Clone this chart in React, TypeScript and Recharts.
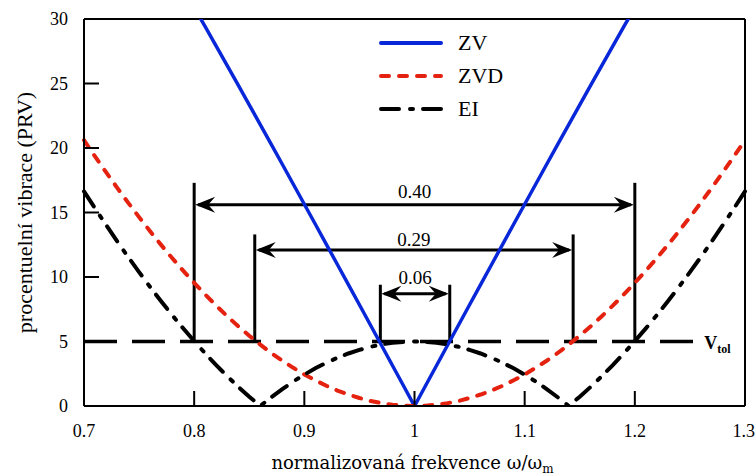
import React from "react";
import {
  LineChart,
  Line,
  XAxis,
  YAxis,
  ReferenceLine,
  ReferenceDot,
  Legend,
} from "recharts";

// normalised frequency w/wm
const freq = [
  0.7, 0.71, 0.72, 0.73, 0.74, 0.75, 0.76, 0.77, 0.78, 0.79, 0.8, 0.81, 0.82,
  0.83, 0.84, 0.85, 0.86, 0.87, 0.88, 0.89, 0.9, 0.91, 0.92, 0.93, 0.94, 0.95,
  0.96, 0.97, 0.98, 0.99, 1.0, 1.01, 1.02, 1.03, 1.04, 1.05, 1.06, 1.07, 1.08,
  1.09, 1.1, 1.11, 1.12, 1.13, 1.14, 1.15, 1.16, 1.17, 1.18, 1.19, 1.2, 1.21,
  1.22, 1.23, 1.24, 1.25, 1.26, 1.27, 1.28, 1.29, 1.3,
];

// residual vibration in %
const zv = [
  45.4, 43.99, 42.58, 41.15, 39.71, 38.27, 36.81, 35.35, 33.87, 32.39, 30.9,
  29.4, 27.9, 26.39, 24.87, 23.35, 21.81, 20.28, 18.74, 17.19, 15.64, 14.09,
  12.53, 10.97, 9.41, 7.85, 6.28, 4.71, 3.14, 1.57, 0, 1.57, 3.14, 4.71, 6.28,
  7.85, 9.41, 10.97, 12.53, 14.09, 15.64, 17.19, 18.74, 20.28, 21.81, 23.35,
  24.87, 26.39, 27.9, 29.4, 30.9, 32.39, 33.87, 35.35, 36.81, 38.27, 39.71,
  41.15, 42.58, 43.99, 45.4,
];

const zvd = [
  20.61, 19.35, 18.13, 16.93, 15.77, 14.64, 13.55, 12.49, 11.47, 10.49, 9.55,
  8.65, 7.78, 6.96, 6.18, 5.45, 4.76, 4.11, 3.51, 2.96, 2.45, 1.99, 1.57, 1.2,
  0.89, 0.62, 0.39, 0.22, 0.1, 0.02, 0, 0.02, 0.1, 0.22, 0.39, 0.62, 0.89, 1.2,
  1.57, 1.99, 2.45, 2.96, 3.51, 4.11, 4.76, 5.45, 6.18, 6.96, 7.78, 8.65, 9.55,
  10.49, 11.47, 12.49, 13.55, 14.64, 15.77, 16.93, 18.13, 19.35, 20.61,
];

const ei = [
  16.64, 15.32, 14.04, 12.78, 11.56, 10.38, 9.23, 8.12, 7.05, 6.02, 5.03, 4.08,
  3.17, 2.31, 1.49, 0.72, 0.0, 0.68, 1.31, 1.9, 2.43, 2.92, 3.35, 3.74, 4.07,
  4.35, 4.59, 4.77, 4.9, 4.97, 5.0, 4.97, 4.9, 4.77, 4.59, 4.35, 4.07, 3.74,
  3.35, 2.92, 2.43, 1.9, 1.31, 0.68, 0.0, 0.72, 1.49, 2.31, 3.17, 4.08, 5.03,
  6.02, 7.05, 8.12, 9.23, 10.38, 11.56, 12.78, 14.04, 15.32, 16.64,
];

const xTicks = [0.7, 0.8, 0.9, 1, 1.1, 1.2, 1.3];
const yTicks = [0, 5, 10, 15, 20, 25, 30];

// tolerance line
const vTol = 5;
const vTolEnd = 1.253;

// insensitivity widths
const spanLabels = ["0.40", "0.29", "0.06"];
const spanFrom = [0.8, 0.855, 0.969];
const spanTo = [1.2, 1.144, 1.032];
const spanArrow = [15.6, 12.1, 8.7];
const spanTop = [17.3, 13.3, 9.4];
const spanText = [16.6, 12.9, 10.0];

const data = freq.map((f, i) => ({ f, zv: zv[i], zvd: zvd[i], ei: ei[i] }));

const series = [
  { key: "zv", name: "ZV", color: "#0727d8", dash: undefined, width: 3.5 },
  { key: "zvd", name: "ZVD", color: "#e4220f", dash: "8 10", width: 4 },
  { key: "ei", name: "EI", color: "#000000", dash: "18 11 3 10", width: 4 },
];

const serif = "Liberation Serif, Times New Roman, serif";

const arrowShape = (p: any) => {
  const l = Math.min(p.x1, p.x2);
  const r = Math.max(p.x1, p.x2);
  const y = p.y1;
  return (
    <g>
      <line x1={l + 4} y1={y} x2={r - 4} y2={y} stroke="#000" strokeWidth={3} />
      <path
        d={`M${l + 1},${y} L${l + 21},${y - 8} L${l + 14},${y} L${l + 21},${y + 8} Z`}
        fill="#000"
      />
      <path
        d={`M${r - 1},${y} L${r - 21},${y - 8} L${r - 14},${y} L${r - 21},${y + 8} Z`}
        fill="#000"
      />
    </g>
  );
};

const renderLegend = () => (
  <div style={{ fontFamily: serif, fontSize: 22, color: "#000" }}>
    {series.map((s) => (
      <div
        key={s.key}
        style={{ display: "flex", alignItems: "center", height: 33 }}
      >
        <svg width={66} height={10}>
          <line
            x1={3}
            y1={5}
            x2={63}
            y2={5}
            stroke={s.color}
            strokeWidth={4}
            strokeDasharray={s.dash}
            strokeLinecap="round"
          />
        </svg>
        <span style={{ marginLeft: 14 }}>{s.name}</span>
      </div>
    ))}
  </div>
);

export default function App() {
  return (
    <div style={{ position: "absolute", left: 0, top: 0, background: "#fff" }}>
      <LineChart
        width={755}
        height={475}
        data={data}
        margin={{ top: 19, right: 10, bottom: 0, left: 0 }}
      >
        <XAxis
          type="number"
          dataKey="f"
          domain={[0.7, 1.3]}
          ticks={xTicks}
          tickFormatter={(v) => String(v)}
          height={69}
          tickSize={-15}
          tickMargin={33}
          axisLine={{ stroke: "#000", strokeWidth: 2 }}
          tickLine={{ stroke: "#000", strokeWidth: 2 }}
          tick={{ fill: "#000", fontSize: 18, fontFamily: serif }}
          label={{
            content: (props: any) => {
              const vb = props.viewBox;
              return (
                <text
                  x={vb.x + vb.width / 2 - 2}
                  y={469}
                  textAnchor="middle"
                  fill="#000"
                  fontSize={18}
                  fontFamily="DejaVu Serif, serif"
                >
                  normalizovaná frekvence ω/ω
                  <tspan dy={4} fontSize={12}>
                    m
                  </tspan>
                </text>
              );
            },
          }}
        />
        <YAxis
          type="number"
          domain={[0, 30]}
          ticks={yTicks}
          allowDataOverflow
          width={84}
          tickSize={-15}
          tickMargin={31}
          axisLine={{ stroke: "#000", strokeWidth: 2 }}
          tickLine={{ stroke: "#000", strokeWidth: 2 }}
          tick={{ fill: "#000", fontSize: 18, fontFamily: serif }}
          label={{
            content: (props: any) => {
              const vb = props.viewBox;
              const cy = vb.y + vb.height / 2;
              return (
                <text
                  x={32}
                  y={cy}
                  transform={`rotate(-90 32 ${cy})`}
                  textAnchor="middle"
                  fill="#000"
                  fontSize={22}
                  fontFamily={serif}
                >
                  procentuelní vibrace (PRV)
                </text>
              );
            },
          }}
        />
        <ReferenceLine y={30} stroke="#000" strokeWidth={2} />
        <ReferenceLine x={1.3} stroke="#000" strokeWidth={2} />
        <ReferenceLine
          segment={[
            { x: 0.7, y: vTol },
            { x: vTolEnd, y: vTol },
          ]}
          stroke="#000"
          strokeWidth={3.5}
          strokeDasharray="33 15"
        />
        <ReferenceDot
          x={vTolEnd}
          y={vTol}
          r={0}
          shape={(p: any) => (
            <text
              x={p.cx + 11}
              y={p.cy + 7}
              fill="#000"
              fontFamily={serif}
              fontWeight="bold"
              fontSize={18}
            >
              V
              <tspan dy={4} fontSize={12}>
                tol
              </tspan>
            </text>
          )}
        />
        {spanLabels.map((lab, i) => (
          <React.Fragment key={lab}>
            <ReferenceLine
              segment={[
                { x: spanFrom[i], y: vTol },
                { x: spanFrom[i], y: spanTop[i] },
              ]}
              stroke="#000"
              strokeWidth={3}
            />
            <ReferenceLine
              segment={[
                { x: spanTo[i], y: vTol },
                { x: spanTo[i], y: spanTop[i] },
              ]}
              stroke="#000"
              strokeWidth={3}
            />
            <ReferenceLine
              segment={[
                { x: spanFrom[i], y: spanArrow[i] },
                { x: spanTo[i], y: spanArrow[i] },
              ]}
              shape={arrowShape}
            />
            <ReferenceDot
              x={(spanFrom[i] + spanTo[i]) / 2}
              y={spanText[i]}
              r={0}
              shape={(p: any) => (
                <text
                  x={p.cx}
                  y={p.cy + 6.5}
                  textAnchor="middle"
                  fill="#000"
                  fontFamily={serif}
                  fontSize={19}
                >
                  {lab}
                </text>
              )}
            />
          </React.Fragment>
        ))}
        {series.map((s) => (
          <Line
            key={s.key}
            type="linear"
            dataKey={s.key}
            name={s.name}
            stroke={s.color}
            strokeWidth={s.width}
            strokeDasharray={s.dash}
            strokeLinecap="round"
            dot={false}
            activeDot={false}
            isAnimationActive={false}
          />
        ))}
        <Legend
          layout="vertical"
          align="center"
          verticalAlign="middle"
          content={renderLegend}
          wrapperStyle={{ left: 378, top: 26, width: 170 }}
        />
      </LineChart>
    </div>
  );
}
